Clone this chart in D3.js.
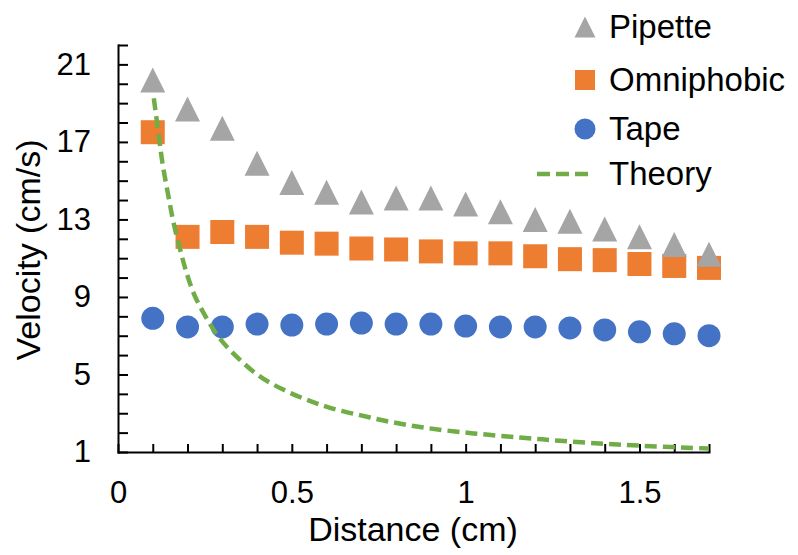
<!DOCTYPE html>
<html>
<head>
<meta charset="utf-8">
<script src="https://cdn.jsdelivr.net/npm/d3@7"></script>
<style>
  body { margin: 0; background: #fff; }
  svg { display: block; font-family: "Liberation Sans", Arial, sans-serif; }
  .axis path, .axis line { stroke: #000; stroke-width: 2; }
  .axis text { font-size: 31px; fill: #000; }
</style>
</head>
<body>
<svg id="chart"></svg>
<script>
// values
const distance = [0.1, 0.2, 0.3, 0.4, 0.5, 0.6, 0.7, 0.8, 0.9, 1.0, 1.1, 1.2, 1.3, 1.4, 1.5, 1.6, 1.7];
const pipette = [20.2, 18.7, 17.7, 15.9, 14.9, 14.4, 13.9, 14.1, 14.1, 13.8, 13.4, 13.0, 12.9, 12.5, 12.1, 11.7, 11.2];
const omniphobic = [17.5, 12.1, 12.35, 12.1, 11.8, 11.75, 11.5, 11.45, 11.35, 11.25, 11.25, 11.1, 10.95, 10.9, 10.7, 10.6, 10.5];
const tape = [7.9, 7.45, 7.45, 7.6, 7.55, 7.6, 7.65, 7.6, 7.6, 7.5, 7.45, 7.45, 7.4, 7.3, 7.2, 7.1, 7.0];

// theory curve, traced point by point
const theoryX = [0.103, 0.116, 0.128, 0.145, 0.159, 0.178, 0.198, 0.221, 0.255, 0.293, 0.351, 0.408, 0.475, 0.542, 0.61, 0.696, 0.782, 0.888, 1.022, 1.156, 1.271, 1.395, 1.51, 1.7];
const theoryV = [19.25, 17.5, 15.9, 14.2, 12.9, 11.5, 10.2, 9.05, 7.9, 6.85, 5.75, 4.9, 4.22, 3.7, 3.28, 2.9, 2.56, 2.24, 1.96, 1.75, 1.58, 1.43, 1.32, 1.18];

const yLabels = [1, 5, 9, 13, 17, 21];
const xLabels = [0, 0.5, 1, 1.5];
const legendLabels = ['Pipette', 'Omniphobic', 'Tape', 'Theory'];
const colors = { pipette: '#A5A5A5', omniphobic: '#ED7D31', tape: '#4472C4', theory: '#70AD47' };

const width = 798, height = 555;
const margin = { top: 45, right: 89, bottom: 103, left: 118 };
const innerW = width - margin.left - margin.right;
const innerH = height - margin.top - margin.bottom;

const svg = d3.select('#chart')
  .attr('width', width)
  .attr('height', height);

const chart = svg.append('g')
  .attr('transform', `translate(${margin.left},${margin.top})`);

const xScale = d3.scaleLinear().domain([0, 1.7]).range([0, innerW]);
const yScale = d3.scaleLinear().domain([1, 22]).range([innerH, 0]);

const near = (d, arr) => arr.some(v => Math.abs(v - d) < 1e-9);

// axes: ticks point inward, labels only on major values
const xAxis = d3.axisBottom(xScale)
  .tickValues(d3.range(0, 18).map(i => i / 10))
  .tickSizeInner(-8)
  .tickSizeOuter(0)
  .tickPadding(29)
  .tickFormat(d => near(d, xLabels) ? String(d) : '');

const yAxis = d3.axisLeft(yScale)
  .tickValues(d3.range(1, 23))
  .tickSizeInner(-10)
  .tickSizeOuter(0)
  .tickPadding(27)
  .tickFormat(d => near(d, yLabels) ? String(d) : '');

chart.append('g')
  .attr('class', 'axis x-axis')
  .attr('transform', `translate(0,${innerH})`)
  .call(xAxis);

chart.append('g')
  .attr('class', 'axis y-axis')
  .call(yAxis);

chart.selectAll('.domain').attr('stroke-linecap', 'square');

// axis titles
svg.append('text')
  .attr('text-anchor', 'middle')
  .attr('x', 413)
  .attr('y', 541)
  .attr('font-size', 34)
  .text('Distance (cm)');

svg.append('text')
  .attr('text-anchor', 'middle')
  .attr('transform', 'translate(40,250) rotate(-90)')
  .attr('font-size', 34)
  .text('Velocity (cm/s)');

// markers
const triPath = (cx, cy, s) => `M${cx - s / 2},${cy + s / 2}L${cx},${cy - s / 2}L${cx + s / 2},${cy + s / 2}Z`;

const marks = chart.append('g');

marks.selectAll('.tape')
  .data(d3.zip(distance, tape))
  .join('circle')
  .attr('class', 'tape')
  .attr('cx', d => xScale(d[0]))
  .attr('cy', d => yScale(d[1]))
  .attr('r', 11.5)
  .attr('fill', colors.tape);

marks.selectAll('.omni')
  .data(d3.zip(distance, omniphobic))
  .join('rect')
  .attr('class', 'omni')
  .attr('x', d => xScale(d[0]) - 12)
  .attr('y', d => yScale(d[1]) - 12)
  .attr('width', 24)
  .attr('height', 24)
  .attr('fill', colors.omniphobic);

marks.selectAll('.pipette')
  .data(d3.zip(distance, pipette))
  .join('path')
  .attr('class', 'pipette')
  .attr('d', d => triPath(xScale(d[0]), yScale(d[1]), 25))
  .attr('fill', colors.pipette);

const line = d3.line()
  .x(d => xScale(d[0]))
  .y(d => yScale(d[1]))
  .curve(d3.curveCatmullRom.alpha(0.5));

marks.append('path')
  .datum(d3.zip(theoryX, theoryV))
  .attr('d', line)
  .attr('fill', 'none')
  .attr('stroke', colors.theory)
  .attr('stroke-width', 4.5)
  .attr('stroke-dasharray', '12,6');

// legend
const legend = svg.append('g').attr('transform', 'translate(585,0)');
const rowY = [27, 80, 129, 174];

legendLabels.forEach((label, i) => {
  const g = legend.append('g').attr('transform', `translate(0,${rowY[i]})`);
  if (i === 0) g.append('path').attr('d', triPath(0, 0, 21)).attr('fill', colors.pipette);
  if (i === 1) g.append('rect').attr('x', -10).attr('y', -10).attr('width', 20).attr('height', 20).attr('fill', colors.omniphobic);
  if (i === 2) g.append('circle').attr('r', 10.5).attr('fill', colors.tape);
  if (i === 3) g.append('line').attr('x1', -48).attr('x2', 5).attr('stroke', colors.theory)
    .attr('stroke-width', 4.5).attr('stroke-dasharray', '13,6');
  g.append('text')
    .attr('x', 24)
    .attr('y', 11)
    .attr('font-size', 33)
    .text(label);
});
</script>
</body>
</html>
